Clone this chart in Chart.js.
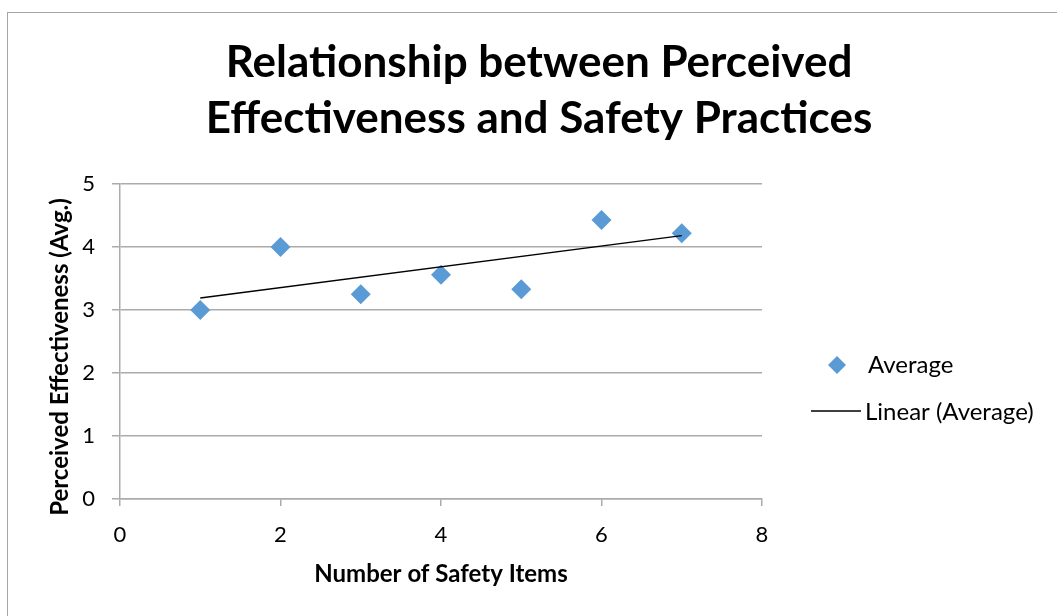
<!DOCTYPE html>
<html>
<head>
<meta charset="utf-8">
<script src="https://cdn.jsdelivr.net/npm/chart.js@4/dist/chart.umd.min.js"></script>
<style>
  html, body { margin: 0; padding: 0; background: #fff; }
  #wrap { position: relative; width: 1057px; height: 616px; }
  #frame { position: absolute; left: 7px; top: 12px; width: 1060px; height: 620px; border: 1.5px solid #A6A6A6; box-sizing: border-box; }
  canvas { position: absolute; left: 0; top: 0; }
</style>
</head>
<body>
<div id="wrap">
  <div id="frame"></div>
  <canvas id="c" width="1057" height="616"></canvas>
</div>
<script>
// Number of safety items vs. average perceived effectiveness
const safetyItems = [1, 2, 3, 4, 5, 6, 7];
const avgEffectiveness = [3.0, 4.0, 3.25, 3.56, 3.33, 4.43, 4.22];
// Linear trend line end points
const trendX = [1, 7];
const trendY = [3.19, 4.18];

const titleLines = ['Relationship between Perceived', 'Effectiveness and Safety Practices'];
const xTitle = 'Number of Safety Items';
const yTitle = 'Perceived Effectiveness (Avg.)';
const FONT = 'Lato, "Open Sans", sans-serif';

const pointColor = '#5B9BD5';
const gridColor = '#ABABAB';

const headerAndLegend = {
  id: 'headerAndLegend',
  afterDraw(chart) {
    const ctx = chart.ctx;
    ctx.save();
    ctx.fillStyle = '#000';
    ctx.textAlign = 'center';
    ctx.textBaseline = 'alphabetic';
    ctx.font = 'bold 44px ' + FONT;
    ctx.fillText(titleLines[0], 539, 77);
    ctx.fillText(titleLines[1], 539, 133);

    // vertical axis title
    ctx.save();
    ctx.translate(60, 357);
    ctx.rotate(-Math.PI / 2);
    ctx.textBaseline = 'middle';
    ctx.font = 'bold 24px ' + FONT;
    ctx.fillText(yTitle, 0, 0);
    ctx.restore();

    // legend
    const ds0 = chart.data.datasets[0];
    const ds1 = chart.data.datasets[1];
    ctx.font = '24px ' + FONT;
    ctx.textAlign = 'left';
    ctx.textBaseline = 'middle';
    ctx.fillStyle = ds0.backgroundColor;
    const cx = 837, cy = 365, r = 9;
    ctx.beginPath();
    ctx.moveTo(cx, cy - r); ctx.lineTo(cx + r, cy); ctx.lineTo(cx, cy + r); ctx.lineTo(cx - r, cy);
    ctx.closePath(); ctx.fill();
    ctx.fillStyle = '#000';
    ctx.fillText(ds0.label, 868, 365);
    ctx.strokeStyle = ds1.borderColor;
    ctx.lineWidth = 1.3;
    ctx.beginPath(); ctx.moveTo(811, 411); ctx.lineTo(861, 411); ctx.stroke();
    ctx.fillText(ds1.label, 865, 412);
    ctx.restore();
  }
};

new Chart(document.getElementById('c'), {
  type: 'scatter',
  data: {
    datasets: [
      {
        label: 'Average',
        data: safetyItems.map((x, i) => ({ x, y: avgEffectiveness[i] })),
        backgroundColor: pointColor,
        borderColor: pointColor,
        pointStyle: 'rectRot',
        pointRadius: 10,
        pointHoverRadius: 10,
        borderWidth: 0,
        order: 2
      },
      {
        label: 'Linear (Average)',
        type: 'line',
        data: trendX.map((x, i) => ({ x, y: trendY[i] })),
        borderColor: '#000',
        borderWidth: 1.4,
        pointRadius: 0,
        fill: false,
        order: 1
      }
    ]
  },
  options: {
    responsive: false,
    animation: false,
    devicePixelRatio: 1,
    layout: { padding: { left: 0, top: 184, right: 295, bottom: 0 } },
    plugins: {
      legend: { display: false },
      title: { display: false },
      tooltip: { enabled: false }
    },
    scales: {
      x: {
        type: 'linear',
        min: 0, max: 8,
        ticks: { stepSize: 2, color: '#000', font: { family: FONT, size: 22 }, padding: 16 },
        grid: { drawOnChartArea: false, drawTicks: true, tickLength: 7, color: gridColor, lineWidth: 1.5 },
        border: { display: true, color: gridColor, width: 1.5 },
        title: { display: true, text: xTitle, color: '#000', font: { family: FONT, size: 24, weight: 'bold' }, padding: { top: 0, bottom: 27 } },
        afterFit(s) { s.height = 117; }
      },
      y: {
        type: 'linear',
        min: 0, max: 5,
        ticks: { stepSize: 1, color: '#000', font: { family: FONT, size: 22 }, padding: 17 },
        grid: { drawOnChartArea: true, drawTicks: true, tickLength: 8, color: gridColor, lineWidth: 1.5 },
        border: { display: true, color: gridColor, width: 1.5 },
        title: { display: false },
        afterFit(s) { s.width = 120; }
      }
    }
  },
  plugins: [headerAndLegend]
});
</script>
</body>
</html>
